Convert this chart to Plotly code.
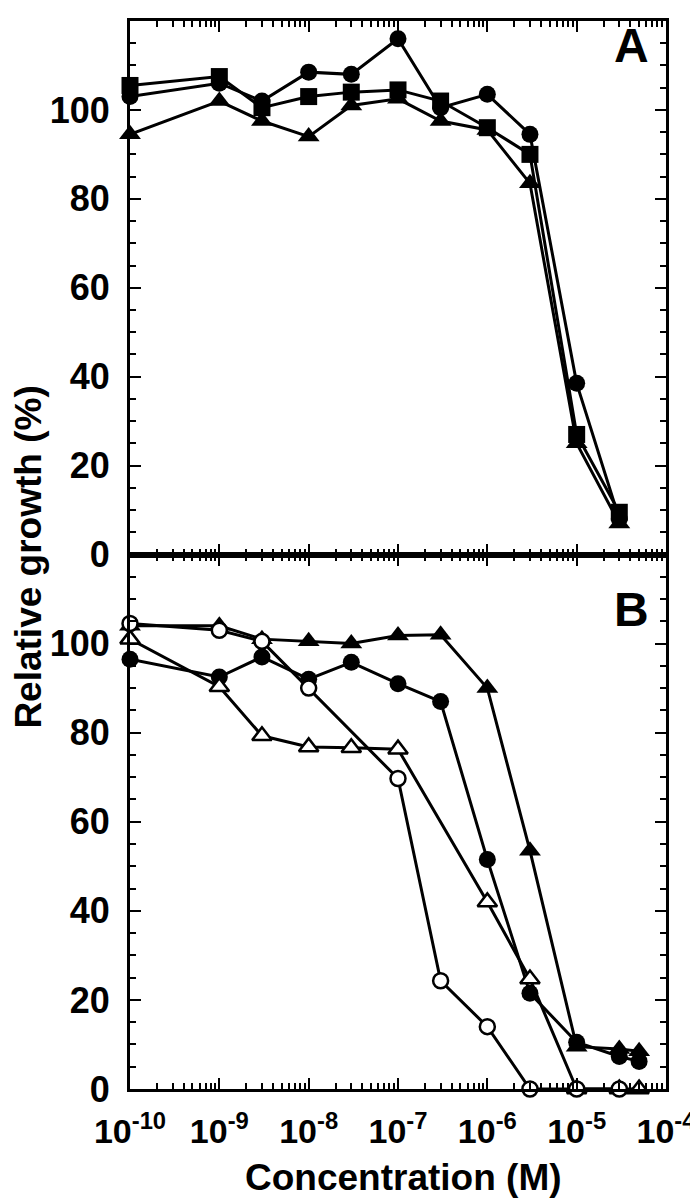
import plotly.graph_objects as go
from plotly.subplots import make_subplots

# ---- Data ----
xA = [1e-10, 1e-9, 3e-9, 1e-8, 3e-8, 1e-7, 3e-7, 1e-6, 3e-6, 1e-5, 3e-5]
A_circle = [103, 106, 102, 108.5, 108, 116, 100.5, 103.5, 94.5, 38.5, 8]
A_square = [105.5, 107.5, 100.5, 103, 104, 104.5, 102, 96, 90, 27, 9.5]
A_triangle = [94.5, 102, 97.5, 94, 101, 102.5, 97.5, 95.5, 83.5, 25, 7]

xB_full = [1e-10, 1e-9, 3e-9, 1e-8, 3e-8, 1e-7, 3e-7, 1e-6, 3e-6, 1e-5, 3e-5, 5e-5]
B_triangle = [104, 104, 101, 100.5, 100, 101.8, 102, 90, 53.5, 9.5, 9, 8.5]
B_circle = [96.5, 92.5, 97, 92, 95.8, 91, 87, 51.5, 21.5, 10.5, 7.3, 6.2]

xB_open_circle = [1e-10, 1e-9, 3e-9, 1e-8, 1e-7, 3e-7, 1e-6, 3e-6, 1e-5, 3e-5]
B_open_circle = [104.5, 103, 100.5, 90, 69.7, 24.3, 14, 0, 0, 0]

xB_open_triangle = [1e-10, 1e-9, 3e-9, 1e-8, 3e-8, 1e-7, 1e-6, 3e-6, 1e-5, 3e-5, 5e-5]
B_open_triangle = [101, 90.3, 79.3, 76.8, 76.6, 76.3, 42, 24.7, 0, 0, 0]

x_tickvals = [1e-10, 1e-9, 1e-8, 1e-7, 1e-6, 1e-5, 1e-4]
x_ticktext = ["10<sup>-10</sup>", "10<sup>-9</sup>", "10<sup>-8</sup>", "10<sup>-7</sup>",
              "10<sup>-6</sup>", "10<sup>-5</sup>", "10<sup>-4</sup>"]
y_tickvals = [0, 20, 40, 60, 80, 100]

FONT = "Liberation Sans, Arial, Helvetica, sans-serif"
BLACK = "black"

fig = make_subplots(rows=2, cols=1, shared_xaxes=False, vertical_spacing=0.0)

SIZES = {"circle": 17, "square": 17, "triangle-up": 19}

def add(x, y, symbol, row, filled=True):
    size = SIZES[symbol]
    if filled:
        marker = dict(symbol=symbol, size=size, color=BLACK, line=dict(width=0))
    else:
        marker = dict(symbol=symbol, size=size - 2, color="white",
                      line=dict(width=2.5, color=BLACK))
    fig.add_trace(go.Scatter(x=x, y=y, mode="lines+markers",
                             line=dict(color=BLACK, width=3),
                             marker=marker, showlegend=False, cliponaxis=False),
                  row=row, col=1)

# Panel A
add(xA, A_triangle, "triangle-up", 1)
add(xA, A_square, "square", 1)
add(xA, A_circle, "circle", 1)

# Panel B
add(xB_full, B_circle, "circle", 2)
add(xB_full, B_triangle, "triangle-up", 2)
add(xB_open_triangle, B_open_triangle, "triangle-up", 2, filled=False)
add(xB_open_circle, B_open_circle, "circle", 2, filled=False)

xaxis_common = dict(
    type="log", range=[-10, -4], showline=True, linecolor=BLACK, linewidth=3,
    mirror="ticks", ticks="inside", ticklen=11, tickwidth=2, tickcolor=BLACK,
    tickmode="array", tickvals=x_tickvals, ticktext=x_ticktext,
    showgrid=False, zeroline=False, ticklabelstandoff=10,
    minor=dict(ticks="inside", ticklen=6, tickwidth=1.5, tickcolor=BLACK,
               dtick="D1", showgrid=False),
    tickfont=dict(family=FONT, size=34, color=BLACK, weight="bold"),
)
yaxis_common = dict(
    range=[0, 120], showline=True, linecolor=BLACK, linewidth=3,
    mirror="ticks", ticks="inside", ticklen=11, tickwidth=2, tickcolor=BLACK,
    tickmode="array", tickvals=y_tickvals,
    ticktext=[f"{v}\u00a0" for v in y_tickvals],
    showgrid=False, zeroline=False,
    minor=dict(ticks="inside", ticklen=6, tickwidth=1.5, tickcolor=BLACK,
               tick0=0, dtick=5, showgrid=False),
    tickfont=dict(family=FONT, size=36, color=BLACK, weight="bold"),
)

split = (1081 - 545) / 1071
fig.update_layout(
    width=698, height=1199,
    margin=dict(l=122, r=39, t=10, b=118),
    paper_bgcolor="white", plot_bgcolor="white",
    xaxis=dict(**xaxis_common, domain=[0, 1], anchor="y", showticklabels=False),
    xaxis2=dict(**xaxis_common, domain=[0, 1], anchor="y2"),
    yaxis=dict(**yaxis_common, domain=[split, 1], anchor="x"),
    yaxis2=dict(**yaxis_common, domain=[0, split], anchor="x2"),
)

label_font = dict(family=FONT, size=48, color=BLACK, weight="bold")
fig.add_annotation(text="A", xref="paper", yref="paper", x=0.935, y=0.977,
                   xanchor="center", yanchor="middle", showarrow=False, font=label_font)
fig.add_annotation(text="B", xref="paper", yref="paper", x=0.935, y=0.449,
                   xanchor="center", yanchor="middle", showarrow=False, font=label_font)
fig.add_annotation(text="Relative growth (%)", xref="paper", yref="paper",
                   x=-0.19, y=0.4977, xanchor="center", yanchor="middle",
                   textangle=-90, showarrow=False,
                   font=dict(family=FONT, size=37, color=BLACK, weight="bold"))
fig.add_annotation(text="Concentration (M)", xref="paper", yref="paper",
                   x=0.51, y=-0.083, xanchor="center", yanchor="middle", showarrow=False,
                   font=dict(family=FONT, size=37, color=BLACK, weight="bold"))

fig.write_html("out.html")
